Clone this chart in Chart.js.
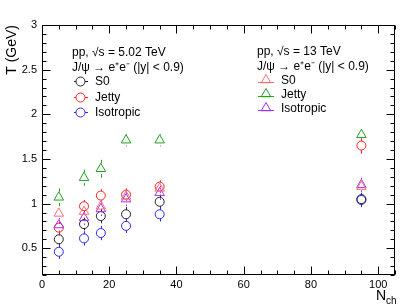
<!DOCTYPE html>
<html>
<head>
<meta charset="utf-8">
<script src="https://cdn.jsdelivr.net/npm/chart.js@4.4.1/dist/chart.umd.min.js"></script>
<style>
  html, body { margin: 0; padding: 0; background: #fff; }
  #wrap { width: 418px; height: 306px; }
</style>
</head>
<body>
<div id="wrap"><canvas id="tempChart"></canvas></div>
<script>
// multiplicity bins
const nch = [5, 12.5, 17.5, 25, 35, 95];

// pp 5.02 TeV
const s0_5 = [0.60, 0.77, 0.86, 0.88, 1.02, 1.05];
const s0_5Err = [0.07, 0.07, 0.08, 0.08, 0.08, 0.07];
const jetty_5 = [0.73, 0.97, 1.09, 1.10, 1.19, 1.65];
const jetty_5Err = [0.07, 0.07, 0.07, 0.07, 0.07, 0.09];
const iso_5 = [0.46, 0.61, 0.67, 0.75, 0.88, 1.04];
const iso_5Err = [0.08, 0.08, 0.08, 0.08, 0.08, 0.08];

// pp 13 TeV
const s0_13 = [0.89, 0.91, 0.97, 1.08, 1.17, 1.19];
const s0_13Err = [0.06, 0.06, 0.06, 0.06, 0.06, 0.06];
const jetty_13 = [1.07, 1.29, 1.39, 1.71, 1.71, 1.77];
const jetty_13Err = [0.10, 0.09, 0.10, 0.07, 0.07, 0.06];
const iso_13 = [0.76, 0.84, 0.94, 1.05, 1.12, 1.21];
const iso_13Err = [0.08, 0.08, 0.08, 0.08, 0.08, 0.08];

const xTicks = [0, 20, 40, 60, 80, 100];
const yTicks = [0.5, 1, 1.5, 2, 2.5, 3];

const FONT = '"Liberation Sans", Arial, Helvetica, sans-serif';

function points(ys) {
  return nch.map((x, i) => ({ x, y: ys[i] }));
}

function series(label, ys, errs, color, style) {
  return {
    label,
    data: points(ys),
    errors: errs,
    borderColor: color,
    backgroundColor: 'rgba(0,0,0,0)',
    borderWidth: 1,
    pointStyle: style,
    pointRadius: style === 'triangle' ? 5.5 : 4.5,
    pointHoverRadius: style === 'triangle' ? 5.5 : 4.5,
    showLine: false
  };
}

const datasets = [
  series('S0 13', s0_13, s0_13Err, '#ff7070', 'triangle'),
  series('Jetty 13', jetty_13, jetty_13Err, '#22a022', 'triangle'),
  series('Isotropic 13', iso_13, iso_13Err, '#a030ff', 'triangle'),
  series('S0', s0_5, s0_5Err, '#222222', 'circle'),
  series('Jetty', jetty_5, jetty_5Err, '#ff2020', 'circle'),
  series('Isotropic', iso_5, iso_5Err, '#2828ff', 'circle')
];

function marker(ctx, style, x, y, r) {
  ctx.beginPath();
  if (style === 'circle') {
    ctx.arc(x, y, r, 0, Math.PI * 2);
  } else {
    let rad = 0;
    ctx.moveTo(x + Math.sin(rad) * r, y - Math.cos(rad) * r);
    rad += Math.PI * 2 / 3;
    ctx.lineTo(x + Math.sin(rad) * r, y - Math.cos(rad) * r);
    rad += Math.PI * 2 / 3;
    ctx.lineTo(x + Math.sin(rad) * r, y - Math.cos(rad) * r);
    ctx.closePath();
  }
  ctx.stroke();
}

const errorBars = {
  id: 'errorBars',
  beforeDatasetsDraw(chart) {
    const { ctx, scales: { y } } = chart;
    ctx.save();
    ctx.lineWidth = 1;
    chart.data.datasets.forEach((ds, i) => {
      const meta = chart.getDatasetMeta(i);
      meta.data.forEach((pt, j) => {
        const v = ds.data[j].y;
        const e = ds.errors[j];
        const top = y.getPixelForValue(v + e);
        const bot = y.getPixelForValue(v - e);
        const r = ds.pointRadius;
        const px = Math.round(pt.x) + 0.5;
        ctx.strokeStyle = ds.borderColor;
        ctx.beginPath();
        ctx.moveTo(px, top);
        ctx.lineTo(px, pt.y - r);
        ctx.moveTo(px, pt.y + r);
        ctx.lineTo(px, bot);
        ctx.stroke();
      });
    });
    ctx.restore();
  }
};

const frame = {
  id: 'frame',
  afterDraw(chart) {
    const { ctx, chartArea: a, scales: { x, y } } = chart;
    ctx.save();
    ctx.strokeStyle = '#000';
    ctx.lineWidth = 1;
    const L = Math.round(a.left) + 0.5, R = Math.round(a.right) - 0.5;
    const T = Math.round(a.top) + 0.5, B = Math.round(a.bottom) - 0.5;
    ctx.strokeRect(L, T, R - L, B - T);
    ctx.beginPath();
    for (let v = 0; v <= 105; v += 5) {
      const px = Math.round(x.getPixelForValue(v)) + 0.5;
      const len = v % 20 === 0 ? 8 : 4;
      ctx.moveTo(px, B); ctx.lineTo(px, B - len);
      ctx.moveTo(px, T); ctx.lineTo(px, T + len);
    }
    for (let k = 2; k <= 30; k++) {
      const py = Math.round(y.getPixelForValue(k / 10)) + 0.5;
      const len = k % 5 === 0 ? 8 : 4;
      ctx.moveTo(L, py); ctx.lineTo(L + len, py);
      ctx.moveTo(R, py); ctx.lineTo(R - len, py);
    }
    ctx.stroke();

    // axis titles
    ctx.fillStyle = '#000';
    ctx.save();
    ctx.translate(12, a.top);
    ctx.rotate(-Math.PI / 2);
    ctx.font = '14px ' + FONT;
    ctx.textAlign = 'right';
    ctx.textBaseline = 'middle';
    ctx.fillText('T (GeV)', 0, 0);
    ctx.restore();
    ctx.textBaseline = 'alphabetic';
    ctx.textAlign = 'left';
    ctx.font = '14px ' + FONT;
    ctx.fillText('N', 376, 300);
    ctx.font = '10px ' + FONT;
    ctx.fillText('ch', 386, 304);

    // legends
    ctx.font = '12px ' + FONT;
    ctx.textBaseline = 'middle';
    ctx.fillText('pp, \u221As = 5.02 TeV', 72, 53);
    ctx.fillText('J/\u03C8 \u2192 e\u207Ae\u207B (|y| < 0.9)', 72, 68);
    ctx.fillText('pp, \u221As = 13 TeV', 257, 52);
    ctx.fillText('J/\u03C8 \u2192 e\u207Ae\u207B (|y| < 0.9)', 257, 67);
    const left = chart.data.datasets.slice(3);
    const right = chart.data.datasets.slice(0, 3);
    const leftY = [81, 97, 112];
    const rightY = [80, 94, 108];
    left.forEach((ds, i) => {
      ctx.strokeStyle = ds.borderColor;
      ctx.beginPath();
      ctx.moveTo(74, leftY[i] + 0.5); ctx.lineTo(76, leftY[i] + 0.5);
      ctx.moveTo(85, leftY[i] + 0.5); ctx.lineTo(88, leftY[i] + 0.5);
      ctx.stroke();
      marker(ctx, 'circle', 80.5, leftY[i] + 0.5, 4.5);
      ctx.fillStyle = '#000';
      ctx.fillText(ds.label, 95, leftY[i] + 1);
    });
    right.forEach((ds, i) => {
      ctx.strokeStyle = ds.borderColor;
      ctx.beginPath();
      ctx.moveTo(258, rightY[i] + 2.5); ctx.lineTo(274, rightY[i] + 2.5);
      ctx.stroke();
      marker(ctx, 'triangle', 266, rightY[i], 5.5);
      ctx.fillStyle = '#000';
      ctx.fillText(ds.label.replace(' 13', ''), 281, rightY[i] + 1);
    });
    ctx.restore();
  }
};

new Chart(document.getElementById('tempChart'), {
  type: 'scatter',
  data: { datasets },
  options: {
    responsive: true,
    maintainAspectRatio: false,
    animation: false,
    events: [],
    layout: { padding: { top: 25, right: 23, left: 0, bottom: 0 } },
    plugins: { legend: { display: false }, tooltip: { enabled: false } },
    scales: {
      x: {
        type: 'linear',
        min: 0,
        max: 105,
        grid: { display: false, drawTicks: false },
        border: { display: false },
        afterBuildTicks: s => { s.ticks = xTicks.map(value => ({ value })); },
        afterFit: s => { s.height = 31; },
        ticks: { color: '#000', padding: 3, maxRotation: 0, font: { family: FONT, size: 11 } }
      },
      y: {
        type: 'linear',
        min: 0.2,
        max: 3,
        grid: { display: false, drawTicks: false },
        border: { display: false },
        afterBuildTicks: s => { s.ticks = yTicks.map(value => ({ value })); },
        afterFit: s => { s.width = 42; },
        ticks: { color: '#000', padding: 5, font: { family: FONT, size: 11 }, callback: v => String(v) }
      }
    }
  },
  plugins: [errorBars, frame]
});
</script>
</body>
</html>
